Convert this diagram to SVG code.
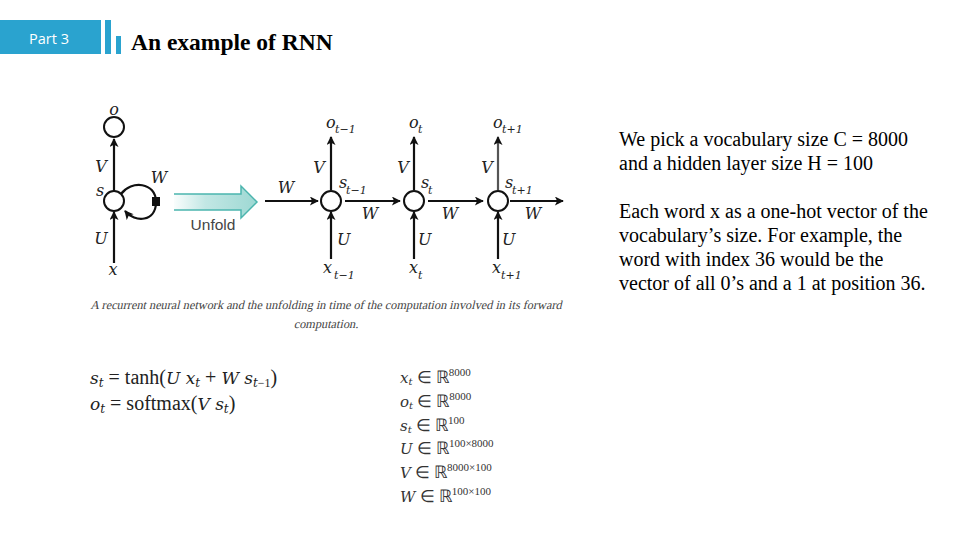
<svg xmlns="http://www.w3.org/2000/svg" width="960" height="540" viewBox="0 0 960 540">
<defs>
  <marker id="ah" viewBox="0 0 10 10" refX="9" refY="5" markerWidth="10" markerHeight="9" orient="auto" markerUnits="userSpaceOnUse">
    <path d="M0,0 L10,5 L0,10 L2.5,5 z" fill="#111"/>
  </marker>
  <linearGradient id="ug" x1="0" y1="0" x2="1" y2="0">
    <stop offset="0" stop-color="#ffffff"/>
    <stop offset="0.4" stop-color="#c2e7e4"/>
    <stop offset="1" stop-color="#9dd8d3"/>
  </linearGradient>
</defs>
<style>
  .bar { fill: #2aa3cf; }
  .title { font-family: "Liberation Serif", serif; font-weight: bold; font-size: 23.5px; fill: #000; }
  .part { font-family: "Open Sans", "DejaVu Sans", sans-serif; font-size: 14.5px; fill: #fff; }
  .body { font-family: "Liberation Serif", serif; font-size: 20px; fill: #000; }
  .lbl { font-family: "DejaVu Serif", "Liberation Serif", serif; font-style: italic; font-size: 16px; fill: #222; }
  .sub { font-family: "DejaVu Serif", "Liberation Serif", serif; font-style: italic; font-size: 11px; fill: #222; }
  .node { fill: #fff; stroke: #111; stroke-width: 2; }
  .edge { fill: none; stroke: #111; stroke-width: 2.2; marker-end: url(#ah); }
  .cap { font-family: "Liberation Serif", serif; font-size: 12.3px; fill: #444; }
  .eq { font-family: "Liberation Serif", serif; font-size: 20px; fill: #222; }
  .mi { font-family: "DejaVu Serif", "Liberation Serif", serif; font-style: italic; }
  .eq .mi { font-size: 17px; }
  .eq .ms { font-size: 12px; }
  .eqs { font-family: "Liberation Serif", serif; font-size: 16.5px; fill: #333; }
  .eqs .mi { font-size: 15px; }
  .eqs .ms { font-size: 10px; }
  .sup { font-family: "Liberation Serif", serif; font-size: 11px; fill: #333; }
  .unf { font-family: "Liberation Sans", Arial, sans-serif; font-size: 15.5px; fill: #444; }
</style>
<rect width="960" height="540" fill="#fff"/>

<g id="header">
  <rect class="bar" x="0" y="20" width="101" height="34"/>
  <rect class="bar" x="105" y="20" width="6" height="34"/>
  <rect class="bar" x="116" y="36" width="5" height="18"/>
  <text class="part" x="29" y="44">Part 3</text>
  <text class="title" x="131" y="50">An example of RNN</text>
</g>

<g id="connectors">
  <line class="edge" x1="114" y1="191" x2="114" y2="139"/>
  <line class="edge" x1="114" y1="263" x2="114" y2="212"/>
  <path class="edge" d="M121,194 C131,180 156,182 156,202 C156,222 135,223 125,211"/>
  <line class="edge" x1="265" y1="201" x2="318" y2="201"/>
  <line class="edge" x1="345" y1="201" x2="400" y2="201"/>
  <line class="edge" x1="428" y1="201" x2="483" y2="201"/>
  <line class="edge" x1="510" y1="201" x2="563" y2="201"/>
  <line class="edge" x1="331" y1="190" x2="331" y2="137"/>
  <line class="edge" x1="414" y1="190" x2="414" y2="137"/>
  <line class="edge" x1="498" y1="190" x2="498" y2="137" style="stroke:#555"/>
  <line class="edge" x1="331" y1="259" x2="331" y2="212"/>
  <line class="edge" x1="414" y1="259" x2="414" y2="212"/>
  <line class="edge" x1="498" y1="259" x2="498" y2="212"/>
</g>

<g id="folded">
  <circle class="node" cx="114" cy="127" r="10"/>
  <circle class="node" cx="114" cy="201" r="10"/>
  <rect x="152" y="197" width="8" height="9" fill="#111"/>
  <text class="lbl" x="114" y="115" text-anchor="middle">o</text>
  <text class="lbl" x="101" y="172" text-anchor="middle">V</text>
  <text class="lbl" x="100" y="196" text-anchor="middle">s</text>
  <text class="lbl" x="159" y="183" text-anchor="middle">W</text>
  <text class="lbl" x="101" y="244" text-anchor="middle">U</text>
  <text class="lbl" x="113" y="275" text-anchor="middle">x</text>
</g>

<g id="unfold-arrow">
  <path d="M171,194 L241,194 L241,186 L257,202 L241,218 L241,210 L171,210 Z" fill="url(#ug)" stroke="#4bb5ae" stroke-width="1.5"/>
  <rect x="168" y="193" width="6" height="18" fill="#fff"/>
  <text class="unf" x="213" y="230" text-anchor="middle">Unfold</text>
</g>

<g id="node-t-1">
  <circle class="node" cx="331" cy="201" r="10"/>
  <text class="lbl" x="326" y="128">o</text><text class="sub" x="335" y="133">t−1</text>
  <text class="lbl" x="319" y="173" text-anchor="middle">V</text>
  <text class="lbl" x="286" y="193" text-anchor="middle">W</text>
  <text class="lbl" x="339" y="188">s</text><text class="sub" x="346" y="194">t−1</text>
  <text class="lbl" x="337" y="245">U</text>
  <text class="lbl" x="323" y="273">x</text><text class="sub" x="334" y="279">t−1</text>
</g>
<g id="node-t">
  <circle class="node" cx="414" cy="201" r="10"/>
  <text class="lbl" x="409" y="128">o</text><text class="sub" x="418" y="133">t</text>
  <text class="lbl" x="403" y="173" text-anchor="middle">V</text>
  <text class="lbl" x="370" y="219" text-anchor="middle">W</text>
  <text class="lbl" x="421" y="188">s</text><text class="sub" x="428" y="194">t</text>
  <text class="lbl" x="418" y="245">U</text>
  <text class="lbl" x="409" y="273">x</text><text class="sub" x="418" y="279">t</text>
</g>
<g id="node-t1">
  <circle class="node" cx="498" cy="201" r="10"/>
  <text class="lbl" x="493" y="128">o</text><text class="sub" x="502" y="133">t+1</text>
  <text class="lbl" x="487" y="173" text-anchor="middle">V</text>
  <text class="lbl" x="450" y="219" text-anchor="middle">W</text>
  <text class="lbl" x="505" y="188">s</text><text class="sub" x="512" y="194">t+1</text>
  <text class="lbl" x="502" y="245">U</text>
  <text class="lbl" x="492" y="273">x</text><text class="sub" x="501" y="279">t+1</text>
  <text class="lbl" x="533" y="219" text-anchor="middle">W</text>
</g>

<g id="caption">
  <g transform="translate(326,309) skewX(-13)"><text class="cap" x="0" y="0" text-anchor="middle">A recurrent neural network and the unfolding in time of the computation involved in its forward</text></g>
  <g transform="translate(326,328) skewX(-13)"><text class="cap" x="0" y="0" text-anchor="middle">computation.</text></g>
</g>

<g id="equations">
  <text class="eq" x="90" y="384"><tspan class="mi">s</tspan><tspan class="mi ms" dy="3">t</tspan><tspan dy="-3"> = tanh(</tspan><tspan class="mi">U x</tspan><tspan class="mi ms" dy="3">t</tspan><tspan dy="-3"> + </tspan><tspan class="mi">W s</tspan><tspan class="mi ms" dy="3">t</tspan><tspan class="ms">−1</tspan><tspan dy="-3">)</tspan></text>
  <text class="eq" x="90" y="410"><tspan class="mi">o</tspan><tspan class="mi ms" dy="3">t</tspan><tspan dy="-3"> = softmax(</tspan><tspan class="mi">V s</tspan><tspan class="mi ms" dy="3">t</tspan><tspan dy="-3">)</tspan></text>
</g>

<g id="dims">
  <text class="eqs" x="400" y="383"><tspan class="mi">x</tspan><tspan class="mi ms" dy="2">t</tspan><tspan dy="-2"> ∈ ℝ</tspan><tspan class="sup" dy="-7">8000</tspan></text>
  <text class="eqs" x="400" y="407"><tspan class="mi">o</tspan><tspan class="mi ms" dy="2">t</tspan><tspan dy="-2"> ∈ ℝ</tspan><tspan class="sup" dy="-7">8000</tspan></text>
  <text class="eqs" x="400" y="431"><tspan class="mi">s</tspan><tspan class="mi ms" dy="2">t</tspan><tspan dy="-2"> ∈ ℝ</tspan><tspan class="sup" dy="-7">100</tspan></text>
  <text class="eqs" x="400" y="454"><tspan class="mi">U</tspan><tspan> ∈ ℝ</tspan><tspan class="sup" dy="-7">100×8000</tspan></text>
  <text class="eqs" x="400" y="478"><tspan class="mi">V</tspan><tspan> ∈ ℝ</tspan><tspan class="sup" dy="-7">8000×100</tspan></text>
  <text class="eqs" x="400" y="502"><tspan class="mi">W</tspan><tspan> ∈ ℝ</tspan><tspan class="sup" dy="-7">100×100</tspan></text>
</g>

<g id="description">
  <text class="body" x="619" y="146">We pick a vocabulary size C = 8000</text>
  <text class="body" x="619" y="170">and a hidden layer size H = 100</text>
  <text class="body" x="619" y="218">Each word x as a one-hot vector of the</text>
  <text class="body" x="619" y="242">vocabulary’s size. For example, the</text>
  <text class="body" x="619" y="266">word with index 36 would be the</text>
  <text class="body" x="619" y="290">vector of all 0’s and a 1 at position 36.</text>
</g>
</svg>
